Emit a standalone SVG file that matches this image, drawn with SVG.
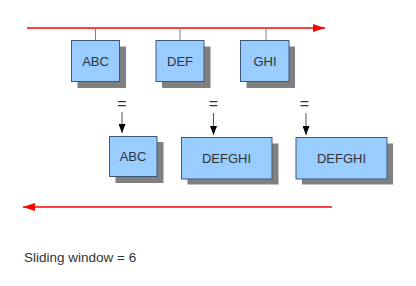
<svg xmlns="http://www.w3.org/2000/svg" width="416" height="286" viewBox="0 0 416 286">
<defs>
<marker id="redhead" markerWidth="12" markerHeight="8" refX="12" refY="4" orient="auto" markerUnits="userSpaceOnUse">
<path d="M0,0 L12,4 L0,8 Z" fill="#ff0000"/>
</marker>
<marker id="blackhead" markerWidth="7" markerHeight="9" refX="3.5" refY="9" orient="0" markerUnits="userSpaceOnUse">
<path d="M0,0 L7,0 L3.5,9 Z" fill="#000000"/>
</marker>
</defs>
<style>
.shadow{fill:#808080;stroke:none}
.box{fill:#99ccff;stroke:#3c5a78;stroke-width:1}
.lbl{font-family:"Liberation Sans",Arial,sans-serif;font-size:13px;fill:#333333;text-anchor:middle}
.eq{font-family:"Liberation Sans",Arial,sans-serif;font-size:16px;fill:#333333;text-anchor:middle}
.tick{stroke:#808080;stroke-width:1}
.red{stroke:#ff0000;stroke-width:1.3;fill:none}
.down{stroke:#555555;stroke-width:1;fill:none}
</style>
<rect width="416" height="286" fill="#ffffff"/>
<g id="connectors">
<line class="red" x1="27" y1="28" x2="325" y2="28" marker-end="url(#redhead)"/>
<line class="red" x1="332" y1="207" x2="23" y2="207" marker-end="url(#redhead)"/>
<line class="tick" x1="95.5" y1="28" x2="95.5" y2="40"/>
<line class="tick" x1="180" y1="28" x2="180" y2="40"/>
<line class="tick" x1="266" y1="28" x2="266" y2="40"/>
<line class="down" x1="122" y1="112" x2="122" y2="133" marker-end="url(#blackhead)"/>
<line class="down" x1="213.5" y1="113" x2="213.5" y2="135" marker-end="url(#blackhead)"/>
<line class="down" x1="306" y1="113" x2="306" y2="135" marker-end="url(#blackhead)"/>
</g>
<g id="abc-top">
<rect class="shadow" x="77.5" y="46.5" width="48.5" height="41.5"/>
<rect class="box" x="71.5" y="40.5" width="48" height="41"/>
<text class="lbl" x="95.5" y="66">ABC</text>
</g>
<g id="def-top">
<rect class="shadow" x="162" y="46.5" width="48.5" height="41.5"/>
<rect class="box" x="156" y="40.5" width="48" height="41"/>
<text class="lbl" x="180" y="66">DEF</text>
</g>
<g id="ghi-top">
<rect class="shadow" x="246.5" y="46.5" width="48.5" height="41.5"/>
<rect class="box" x="240.5" y="40.5" width="48.5" height="41"/>
<text class="lbl" x="265" y="66">GHI</text>
</g>
<g id="eq1"><text class="eq" x="122" y="109">=</text></g>
<g id="eq2"><text class="eq" x="213.5" y="109">=</text></g>
<g id="eq3"><text class="eq" x="304.5" y="109">=</text></g>
<g id="abc-bottom">
<rect class="shadow" x="115.5" y="142" width="48" height="41"/>
<rect class="box" x="109.5" y="136.5" width="47.5" height="40"/>
<text class="lbl" x="133" y="161">ABC</text>
</g>
<g id="defghi-1">
<rect class="shadow" x="187.5" y="143.5" width="91" height="41"/>
<rect class="box" x="181.5" y="137.5" width="90.5" height="41.5"/>
<text class="lbl" x="226.5" y="163">DEFGHI</text>
</g>
<g id="defghi-2">
<rect class="shadow" x="302" y="143.5" width="91" height="41"/>
<rect class="box" x="296" y="137.5" width="91" height="41.5"/>
<text class="lbl" x="341.5" y="163">DEFGHI</text>
</g>
<g id="caption">
<text x="24" y="262" font-family="'Liberation Sans',Arial,sans-serif" font-size="13.5" fill="#333333">Sliding window = 6</text>
</g>
</svg>
